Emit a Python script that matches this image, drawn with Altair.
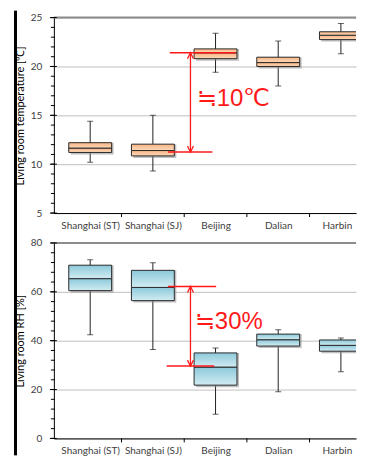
import altair as alt
import pandas as pd

# ---------------- data ----------------
cities = ["Shanghai (ST)", "Shanghai (SJ)", "Beijing", "Dalian", "Harbin"]
idx = [0, 1, 2, 3, 4]

temp_low = [10.2, 9.3, 19.4, 18.0, 21.3]
temp_q1 = [11.2, 10.85, 20.8, 20.0, 22.75]
temp_med = [11.65, 11.4, 21.4, 20.4, 23.2]
temp_q3 = [12.2, 12.05, 21.8, 20.95, 23.55]
temp_high = [14.4, 15.0, 23.4, 22.6, 24.4]

rh_low = [42.4, 36.4, 9.9, 19.1, 27.3]
rh_q1 = [60.5, 56.4, 21.8, 37.8, 35.7]
rh_med = [65.4, 61.8, 29.2, 40.4, 38.1]
rh_q3 = [70.9, 68.8, 35.0, 42.7, 40.3]
rh_high = [73.1, 71.9, 37.0, 44.5, 41.1]

temp_major = [5, 10, 15, 20, 25]
temp_minor = list(range(5, 26))
rh_major = [0, 20, 40, 60, 80]
rh_minor = list(range(0, 81, 4))
separators = [0.5, 1.5, 2.5, 3.5]

# annotations (data coordinates)
temp_ann_lines = {"x": [1.27, 1.24], "x2": [2.32, 1.95], "y": [21.4, 11.25]}
temp_ann_arrow = {"x": [1.60], "y": [21.4], "y2": [11.25]}
temp_ann_text = {"x": [1.70], "y": [16.7], "t": ["≒10℃"]}

rh_ann_lines = {"x": [1.24, 1.22], "x2": [2.01, 1.98], "y": [62.2, 29.6]}
rh_ann_arrow = {"x": [1.60], "y": [62.2], "y2": [29.6]}
rh_ann_text = {"x": [1.67], "y": [47.8], "t": ["≒30%"]}

# ---------------- layout ----------------
W = 303
BAND = 65
XDOM = [-0.5, -0.5 + W / BAND]
RED = "#FF1A1A"
FONT = "Lato"
H1 = 196
H2 = 196
TOP = 7
GAP = 30

label_expr = "[" + ",".join("'" + c + "'" for c in cities) + "][datum.value]"


def panel(low, q1, med, q3, high, ydom, major, minor, title, c_top, c_bot,
          lines, arrow, text, H, bar_top, bar_bot):
    df = pd.DataFrame(dict(idx=idx, low=low, q1=q1, med=med, q3=q3, high=high))
    xscale = alt.Scale(domain=XDOM, nice=False, zero=False)
    yscale = alt.Scale(domain=ydom, nice=False, zero=False)
    xaxis = alt.Axis(values=idx, labelExpr=label_expr, ticks=False, tickSize=0,
                     grid=False, title=None, domainColor="black", domainWidth=1,
                     labelFont=FONT, labelFontSize=10, labelColor="#404040",
                     labelPadding=7, labelFlush=False, labelOverlap=False,
                     labelOffset={"condition": {"test": "datum.value === 4",
                                                "value": -4}, "value": 0})
    yaxis = alt.Axis(values=major, ticks=False, tickSize=0, grid=True,
                     gridColor="#BFBFBF", gridWidth=1, domainColor="black",
                     domainWidth=1, labelFont=FONT, labelFontSize=10,
                     labelColor="#404040", labelPadding=12, title=title,
                     titleFont=FONT, titleFontSize=11, titleFontWeight="normal",
                     titleColor="black", titlePadding=5)

    def X(f):
        return alt.X(f, scale=xscale, axis=xaxis, title=None)

    def Y(f):
        return alt.Y(f, scale=yscale, axis=yaxis, title=title)

    base = alt.Chart(df)

    top_line = alt.Chart(pd.DataFrame({"v": [ydom[1]]})).mark_rule(
        color="#8C8C8C", strokeWidth=2).encode(
        y=Y("v:Q"), x=alt.value(0), x2=alt.value(W))

    minor_t = alt.Chart(pd.DataFrame({"v": minor})).mark_rule(
        color="black", strokeWidth=1).encode(
        y=Y("v:Q"), x=alt.value(-3), x2=alt.value(1))
    major_t = alt.Chart(pd.DataFrame({"v": major})).mark_rule(
        color="black", strokeWidth=1).encode(
        y=Y("v:Q"), x=alt.value(-4), x2=alt.value(3))
    sep_t = alt.Chart(pd.DataFrame({"s": separators})).mark_rule(
        color="black", strokeWidth=1).encode(
        x=X("s:Q"), y=alt.value(H), y2=alt.value(H + 4))

    whisker = base.mark_rule(color="#222222", strokeWidth=1, clip=True).encode(
        x=X("idx:Q"), y=Y("low:Q"), y2="high:Q")
    cap_lo = base.mark_tick(orient="horizontal", size=6, thickness=1,
                            color="#222222", clip=True).encode(
        x=X("idx:Q"), y=Y("low:Q"))
    cap_hi = base.mark_tick(orient="horizontal", size=6, thickness=1,
                            color="#222222", clip=True).encode(
        x=X("idx:Q"), y=Y("high:Q"))

    shadow = base.mark_bar(size=43, color="#8A8A8A", opacity=0.55,
                           xOffset=2, yOffset=2, clip=True).encode(
        x=X("idx:Q"), y=Y("q1:Q"), y2="q3:Q")

    grad = alt.Gradient(gradient="linear",
                        stops=[alt.GradientStop(color=c_top, offset=0),
                               alt.GradientStop(color=c_bot, offset=1)],
                        x1=0, x2=0, y1=0, y2=1)
    seg_lo = base.mark_bar(size=43, fill=grad, stroke="#2b2b2b",
                           strokeWidth=1, clip=True).encode(
        x=X("idx:Q"), y=Y("q1:Q"), y2="med:Q")
    seg_hi = base.mark_bar(size=43, fill=grad, stroke="#2b2b2b",
                           strokeWidth=1, clip=True).encode(
        x=X("idx:Q"), y=Y("med:Q"), y2="q3:Q")

    red_h = alt.Chart(pd.DataFrame(lines)).mark_rule(
        color=RED, strokeWidth=1.5).encode(
        x=X("x:Q"), x2="x2:Q", y=Y("y:Q"))
    red_v = alt.Chart(pd.DataFrame(arrow)).mark_rule(
        color=RED, strokeWidth=1.3).encode(
        x=X("x:Q"), y=Y("y:Q"), y2="y2:Q")
    head_up = alt.Chart(pd.DataFrame(arrow)).mark_point(
        shape="M-0.5,1L0,0L0.5,1", size=144, filled=False, color=RED,
        strokeWidth=1.3, opacity=1).encode(x=X("x:Q"), y=Y("y:Q"))
    head_dn = alt.Chart(pd.DataFrame(arrow)).mark_point(
        shape="M-0.5,-1L0,0L0.5,-1", size=144, filled=False, color=RED,
        strokeWidth=1.3, opacity=1).encode(x=X("x:Q"), y=Y("y2:Q"))
    red_t = alt.Chart(pd.DataFrame(text)).mark_text(
        align="left", baseline="middle", font="Liberation Sans", fontSize=24,
        color=RED).encode(x=X("x:Q"), y=Y("y:Q"), text="t:N")

    left_bar = alt.Chart(pd.DataFrame({"v": [ydom[0]]})).mark_rule(
        color="black", strokeWidth=3).encode(
        x=alt.value(-38.5), y=alt.value(bar_top), y2=alt.value(bar_bot))

    return alt.layer(
        whisker, cap_lo, cap_hi, top_line, shadow, seg_lo, seg_hi,
        minor_t, major_t, sep_t, red_h, red_v, head_up, head_dn, red_t, left_bar
    ).properties(width=W, height=H)


top = panel(temp_low, temp_q1, temp_med, temp_q3, temp_high, [5, 25],
            temp_major, temp_minor, "Living room temperature [℃]",
            "#F7B583", "#FCD8BA", temp_ann_lines, temp_ann_arrow,
            temp_ann_text, H1, -TOP, H1 + GAP / 2)
bottom = panel(rh_low, rh_q1, rh_med, rh_q3, rh_high, [0, 80],
               rh_major, rh_minor, "Living room RH [%]",
               "#8CC9DA", "#D2ECF3", rh_ann_lines, rh_ann_arrow,
               rh_ann_text, H2, -GAP / 2, H2 + 17)

chart = alt.vconcat(top, bottom, spacing=GAP, bounds="flush").properties(
    padding={"left": 6, "top": 0, "right": 0, "bottom": 0},
    background="white",
).configure_view(strokeWidth=0)

chart.save("out.html", embed_options={"renderer": "svg", "actions": False})
